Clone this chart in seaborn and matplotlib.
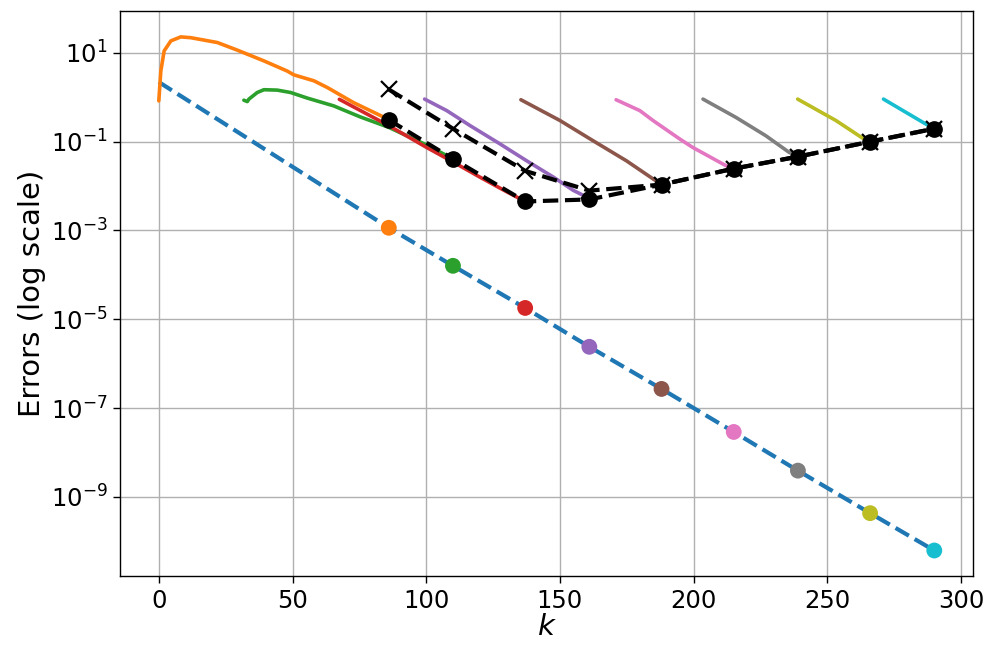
import numpy as np
import pandas as pd
import matplotlib
matplotlib.use("Agg")
import matplotlib.pyplot as plt
import matplotlib.ticker as mticker
import seaborn as sns

# ----------------------------------------------------------------------------
# Data
# ----------------------------------------------------------------------------
restart_k = [86, 110, 137, 161, 188, 215, 239, 266, 290]

# reference error (blue dashed) at k=0 and at each restart
ref_k = [0] + restart_k
ref_err = [2.2, 1.15e-3, 1.6e-4, 1.8e-5, 2.4e-6, 2.7e-7, 2.9e-8, 3.9e-9, 4.3e-10, 6.2e-11]

# black dashed curves
err_circles = [0.31, 0.041, 0.0045, 0.005, 0.0108, 0.0247, 0.046, 0.1, 0.196]
err_crosses = [1.5, 0.196, 0.022, 0.0079, 0.0108, 0.0247, 0.046, 0.1, 0.196]

# solid curves, one per window
orange_k = [0, 0.75, 2, 4.5, 8.2, 11.9, 21.9, 29.4, 39.3, 48, 50.5, 58, 63, 72.8, 84, 86]
orange_e = [0.83, 3.9, 11.1, 18.6, 22.9, 22, 17.1, 11.5, 6.6, 3.9, 3.2, 2.35, 1.66, 0.76, 0.36, 0.31]

green_k = [31.8, 33.1, 33.7, 36.8, 39.3, 44.3, 49.3, 55.5, 65.4, 75.4, 86, 100, 110]
green_e = [0.86, 0.80, 0.91, 1.28, 1.48, 1.45, 1.28, 0.96, 0.64, 0.36, 0.21, 0.085, 0.041]

red_k = [67.5, 86, 100, 110, 120, 130, 137]
red_e = [0.9, 0.23, 0.075, 0.035, 0.016, 0.0075, 0.0045]

purple_k = [99.4, 107.7, 116.4, 127.6, 137.6, 147.5, 155, 158.7, 161]
purple_e = [0.91, 0.5, 0.23, 0.089, 0.037, 0.016, 0.008, 0.0062, 0.0055]

brown_k = [135.4, 150, 162.4, 174.9, 186, 188]
brown_e = [0.88, 0.30, 0.105, 0.037, 0.013, 0.011]

pink_k = [171, 179.9, 184.8, 194.8, 199.7, 212, 215]
pink_e = [0.88, 0.5, 0.30, 0.115, 0.074, 0.029, 0.025]

gray_k = [203.5, 215.9, 227, 235.8, 239]
gray_e = [0.91, 0.35, 0.136, 0.057, 0.048]

olive_k = [238.9, 253.2, 263.2, 266]
olive_e = [0.91, 0.30, 0.12, 0.1]

cyan_k = [271, 286.8, 290]
cyan_e = [0.91, 0.25, 0.2]

# ----------------------------------------------------------------------------
# Style
# ----------------------------------------------------------------------------
sns.set_theme(style="ticks", rc={
    "axes.grid": True,
    "grid.color": "#b0b0b0",
    "grid.linewidth": 1.0,
    "axes.edgecolor": "black",
    "axes.linewidth": 1.0,
    "text.color": "black",
    "axes.labelcolor": "black",
    "xtick.color": "black",
    "ytick.color": "black",
    "xtick.labelsize": 17.5,
    "ytick.labelsize": 17.5,
    "axes.labelsize": 21,
})
plt.rcParams["font.family"] = ["DejaVu Sans"]
palette = sns.color_palette("tab10")

fig, ax = plt.subplots(figsize=(9.97, 6.6), dpi=100)
fig.subplots_adjust(left=0.1204, right=0.976, top=0.983, bottom=0.127)
ax.set_yscale("log")

# reference error line
sns.lineplot(x=ref_k, y=ref_err, ax=ax, color=palette[0], lw=3,
             linestyle="--", estimator=None, sort=False)

curves = [
    (orange_k, orange_e), (green_k, green_e), (red_k, red_e),
    (purple_k, purple_e), (brown_k, brown_e), (pink_k, pink_e),
    (gray_k, gray_e), (olive_k, olive_e), (cyan_k, cyan_e),
]
for i, (kk, ee) in enumerate(curves):
    sns.lineplot(x=kk, y=ee, ax=ax, color=palette[i + 1], lw=2.6,
                 estimator=None, sort=False)

# black dashed: crosses and circles
ax.plot(restart_k, err_crosses, "--", color="black", lw=3,
        marker="x", markersize=11, markeredgewidth=1.6, zorder=4)
ax.plot(restart_k, err_circles, "--", color="black", lw=3,
        marker="o", markersize=11, zorder=5)

# coloured dots on the reference line
dots = pd.DataFrame({"k": restart_k, "err": ref_err[1:], "win": range(len(restart_k))})
sns.scatterplot(data=dots, x="k", y="err", hue="win",
                palette=[palette[i + 1] for i in range(len(restart_k))],
                s=130, linewidth=0, legend=False, ax=ax, zorder=6)

ax.set_yticks([1e1, 1e-1, 1e-3, 1e-5, 1e-7, 1e-9])
ax.yaxis.set_minor_locator(mticker.NullLocator())
ax.set_xticks([0, 50, 100, 150, 200, 250, 300])
ax.set_xlabel("$k$", labelpad=0)
ax.set_ylabel("Errors (log scale)", labelpad=3)
ax.tick_params(direction="out", length=5, width=1, color="black", pad=4)

fig.savefig("out.png", dpi=100)
